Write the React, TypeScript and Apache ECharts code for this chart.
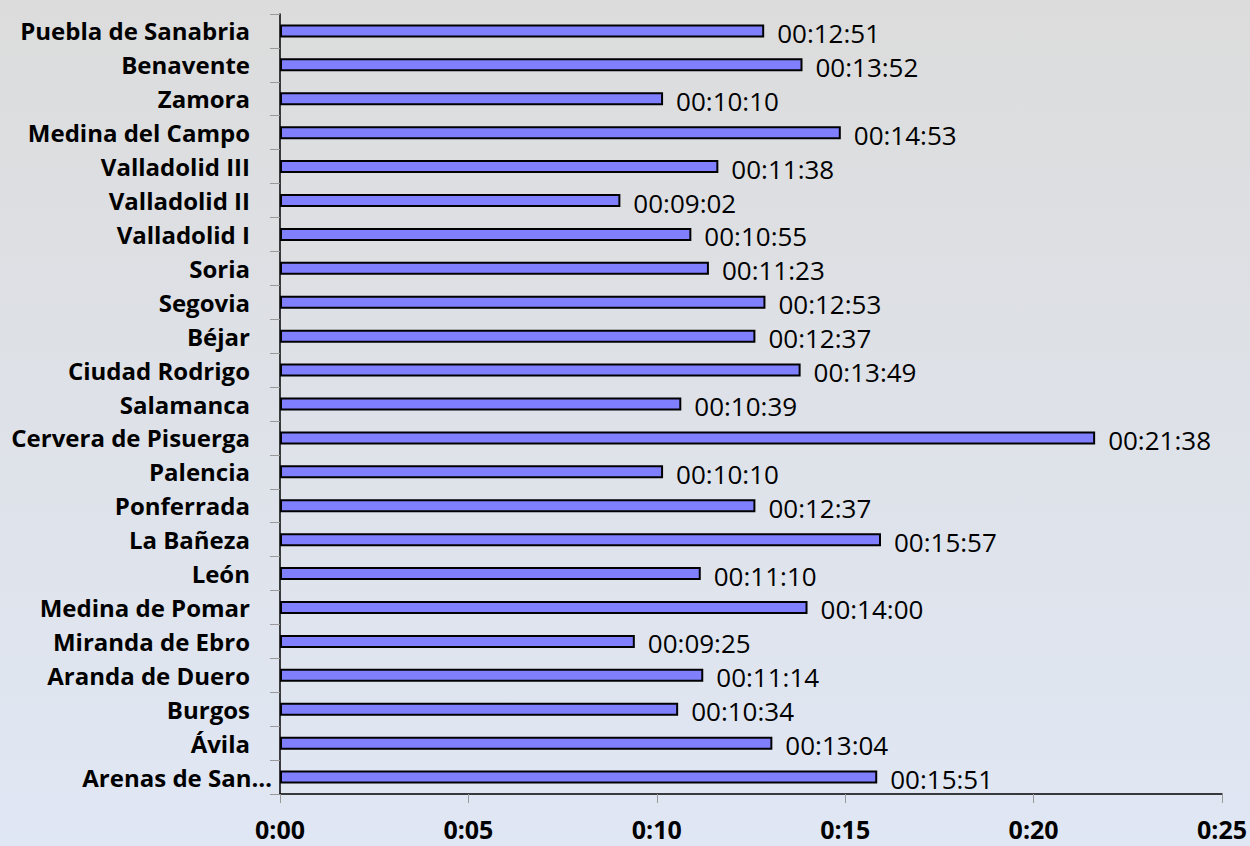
import React, { useEffect, useRef } from "react";
import * as echarts from "echarts";

// Categories listed bottom to top (ECharts category yAxis runs upward)
const categories = [
  "Arenas de San…",
  "Ávila",
  "Burgos",
  "Aranda de Duero",
  "Miranda de Ebro",
  "Medina de Pomar",
  "León",
  "La Bañeza",
  "Ponferrada",
  "Palencia",
  "Cervera de Pisuerga",
  "Salamanca",
  "Ciudad Rodrigo",
  "Béjar",
  "Segovia",
  "Soria",
  "Valladolid I",
  "Valladolid II",
  "Valladolid III",
  "Medina del Campo",
  "Zamora",
  "Benavente",
  "Puebla de Sanabria",
];

const durations = [
  "00:15:51",
  "00:13:04",
  "00:10:34",
  "00:11:14",
  "00:09:25",
  "00:14:00",
  "00:11:10",
  "00:15:57",
  "00:12:37",
  "00:10:10",
  "00:21:38",
  "00:10:39",
  "00:13:49",
  "00:12:37",
  "00:12:53",
  "00:11:23",
  "00:10:55",
  "00:09:02",
  "00:11:38",
  "00:14:53",
  "00:10:10",
  "00:13:52",
  "00:12:51",
];

const xTickLabels = ["0:00", "0:05", "0:10", "0:15", "0:20", "0:25"];
const xMax = 1500; // seconds (25 minutes)
const xInterval = 300; // 5 minutes

const toSeconds = (s: string) => {
  const [h, m, sec] = s.split(":").map(Number);
  return h * 3600 + m * 60 + sec;
};

const FONT = "'Open Sans', 'Noto Sans', sans-serif";

export default function App() {
  const ref = useRef<HTMLDivElement>(null);

  useEffect(() => {
    document.body.style.margin = "0";
    if (!ref.current) return;
    const chart = echarts.init(ref.current, undefined, { renderer: "svg" });
    const data = durations.map((d) => toSeconds(d));
    chart.setOption({
      animation: false,
      backgroundColor: {
        type: "linear",
        x: 0,
        y: 0,
        x2: 0,
        y2: 1,
        colorStops: [
          { offset: 0, color: "#dcdcdc" },
          { offset: 1, color: "#e0e7f4" },
        ],
      },
      grid: { left: 280, right: 28, top: 14, bottom: 52, containLabel: false },
      xAxis: {
        type: "value",
        min: 0,
        max: xMax,
        interval: xInterval,
        splitLine: { show: false },
        axisLine: { show: true, lineStyle: { color: "#000", width: 1.5 } },
        axisTick: { show: true, length: 9, lineStyle: { color: "#999", width: 1 } },
        axisLabel: {
          margin: 22,
          color: "#000",
          fontFamily: FONT,
          fontWeight: "bold",
          fontSize: 25,
          lineHeight: 26,
          formatter: (_v: number, i: number) => xTickLabels[i] ?? "",
        },
      },
      yAxis: {
        type: "category",
        data: categories,
        axisLine: { show: true, lineStyle: { color: "#000", width: 1.5 } },
        axisTick: { show: true, length: 10, lineStyle: { color: "#999", width: 1 } },
        axisLabel: {
          margin: 8,
          color: "#000",
          fontFamily: FONT,
          fontWeight: "bold",
          fontSize: 24,
          formatter: (v: string) =>
            v === "Arenas de San…" ? `{b|${v}}` : `{a|${v}}`,
          rich: {
            a: {
              fontFamily: FONT,
              fontWeight: "bold",
              fontSize: 24,
              color: "#000",
              padding: [0, 22, 0, 0],
            },
            b: {
              fontFamily: FONT,
              fontWeight: "bold",
              fontSize: 24,
              color: "#000",
            },
          },
        },
      },
      series: [
        {
          type: "bar",
          data,
          barWidth: 13,
          itemStyle: { color: "#8080ff", borderColor: "#000", borderWidth: 2 },
          label: {
            show: true,
            position: "right",
            distance: 13,
            color: "#000",
            fontFamily: FONT,
            fontSize: 26,
            offset: [0, 2],
            formatter: (p: any) => durations[p.dataIndex],
          },
        },
      ],
    });
    return () => chart.dispose();
  }, []);

  return (
    <div
      ref={ref}
      style={{ position: "absolute", left: 0, top: 0, width: 1250, height: 846 }}
    />
  );
}
